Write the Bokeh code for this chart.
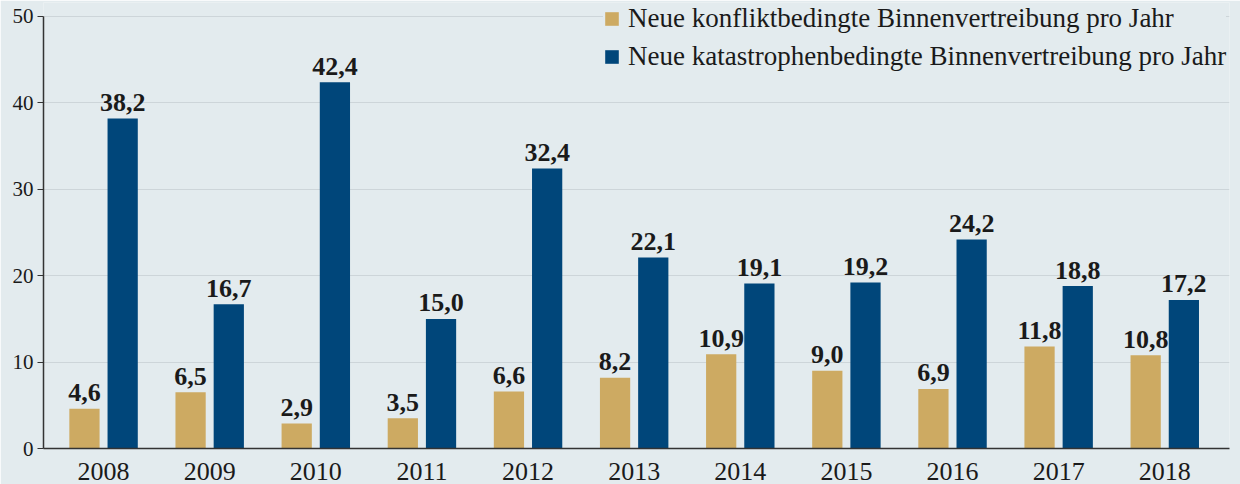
from bokeh.plotting import figure
from bokeh.models import ColumnDataSource, Legend, LegendItem, Range1d, FixedTicker
from bokeh.core.properties import value
from bokeh.embed import file_html
from bokeh.resources import INLINE

years = ["2008", "2009", "2010", "2011", "2012", "2013", "2014", "2015", "2016", "2017", "2018"]
conflict = [4.6, 6.5, 2.9, 3.5, 6.6, 8.2, 10.9, 9.0, 6.9, 11.8, 10.8]
disaster = [38.2, 16.7, 42.4, 15.0, 32.4, 22.1, 19.1, 19.2, 24.2, 18.8, 17.2]
series_names = ["Neue konfliktbedingte Binnenvertreibung pro Jahr",
                "Neue katastrophenbedingte Binnenvertreibung pro Jahr"]
y_ticks = [0, 10, 20, 30, 40, 50]

BG = "#e3ebee"
GOLD = "#cdaa62"
BLUE = "#00467a"
TXT = "#1a1a1a"
FONT = "Liberation Serif"

def fmt(v):
    return f"{v:.1f}".replace(".", ",")

idx = list(range(len(years)))
off = 0.18
w = 0.285
src_c = ColumnDataSource(dict(x=[i - off for i in idx], top=conflict, lab=[fmt(v) for v in conflict]))
src_d = ColumnDataSource(dict(x=[i + off for i in idx], top=disaster, lab=[fmt(v) for v in disaster]))

# frame extends a bit above 50 so the legend is not clipped; axis line stops at 50
p = figure(width=1240, height=484, frame_width=1186, frame_height=446,
           output_backend="svg", toolbar_location=None,
           x_range=Range1d(-0.566, 10.61), y_range=Range1d(0, 51.62),
           min_border_left=43, min_border_right=11, min_border_top=2, min_border_bottom=36)
p.background_fill_color = BG
p.border_fill_color = BG
p.outline_line_color = None

r1 = p.vbar(x="x", top="top", width=w, source=src_c, fill_color=GOLD, line_color=None)
r2 = p.vbar(x="x", top="top", width=w, source=src_d, fill_color=BLUE, line_color=None)

for s in (src_c, src_d):
    p.text(x="x", y="top", text="lab", source=s, text_align="center", text_baseline="alphabetic",
           y_offset=-16, text_font=value(FONT), text_font_style="bold", text_font_size="26px",
           text_color=TXT)

p.xgrid.grid_line_color = None
p.ygrid.grid_line_color = "#cdd5d9"
p.ygrid.grid_line_width = 1
p.ygrid.ticker = FixedTicker(ticks=y_ticks)

p.xaxis.ticker = FixedTicker(ticks=idx)
p.xaxis.major_label_overrides = {i: y for i, y in zip(idx, years)}
p.xaxis.major_tick_line_color = None
p.xaxis.minor_tick_line_color = None
p.xaxis.axis_line_color = "#333333"
p.xaxis.axis_line_width = 1.5
p.xaxis.major_label_text_font = FONT
p.xaxis.major_label_text_font_size = "26px"
p.xaxis.major_label_text_color = TXT
p.xaxis.major_label_standoff = 8

p.yaxis.ticker = FixedTicker(ticks=y_ticks)
p.yaxis.bounds = (0, 50)
p.yaxis.minor_tick_line_color = None
p.yaxis.major_tick_out = 6
p.yaxis.major_tick_in = 0
p.yaxis.major_tick_line_color = "#333333"
p.yaxis.axis_line_color = "#333333"
p.yaxis.axis_line_width = 1.5
p.yaxis.major_label_text_font = FONT
p.yaxis.major_label_text_font_size = "21px"
p.yaxis.major_label_text_color = TXT
p.yaxis.major_label_standoff = 4

legend = Legend(items=[LegendItem(label=series_names[0], renderers=[r1]),
                       LegendItem(label=series_names[1], renderers=[r2])],
                location=(560, 376), orientation="vertical",
                background_fill_color=BG, background_fill_alpha=1.0, border_line_color=None,
                padding=4, margin=0, spacing=7, glyph_width=17, glyph_height=17,
                label_height=30, label_standoff=8,
                label_text_font=FONT, label_text_font_size="27px", label_text_color=TXT)
p.add_layout(legend)

open("out.html", "w").write(file_html(p, INLINE))
